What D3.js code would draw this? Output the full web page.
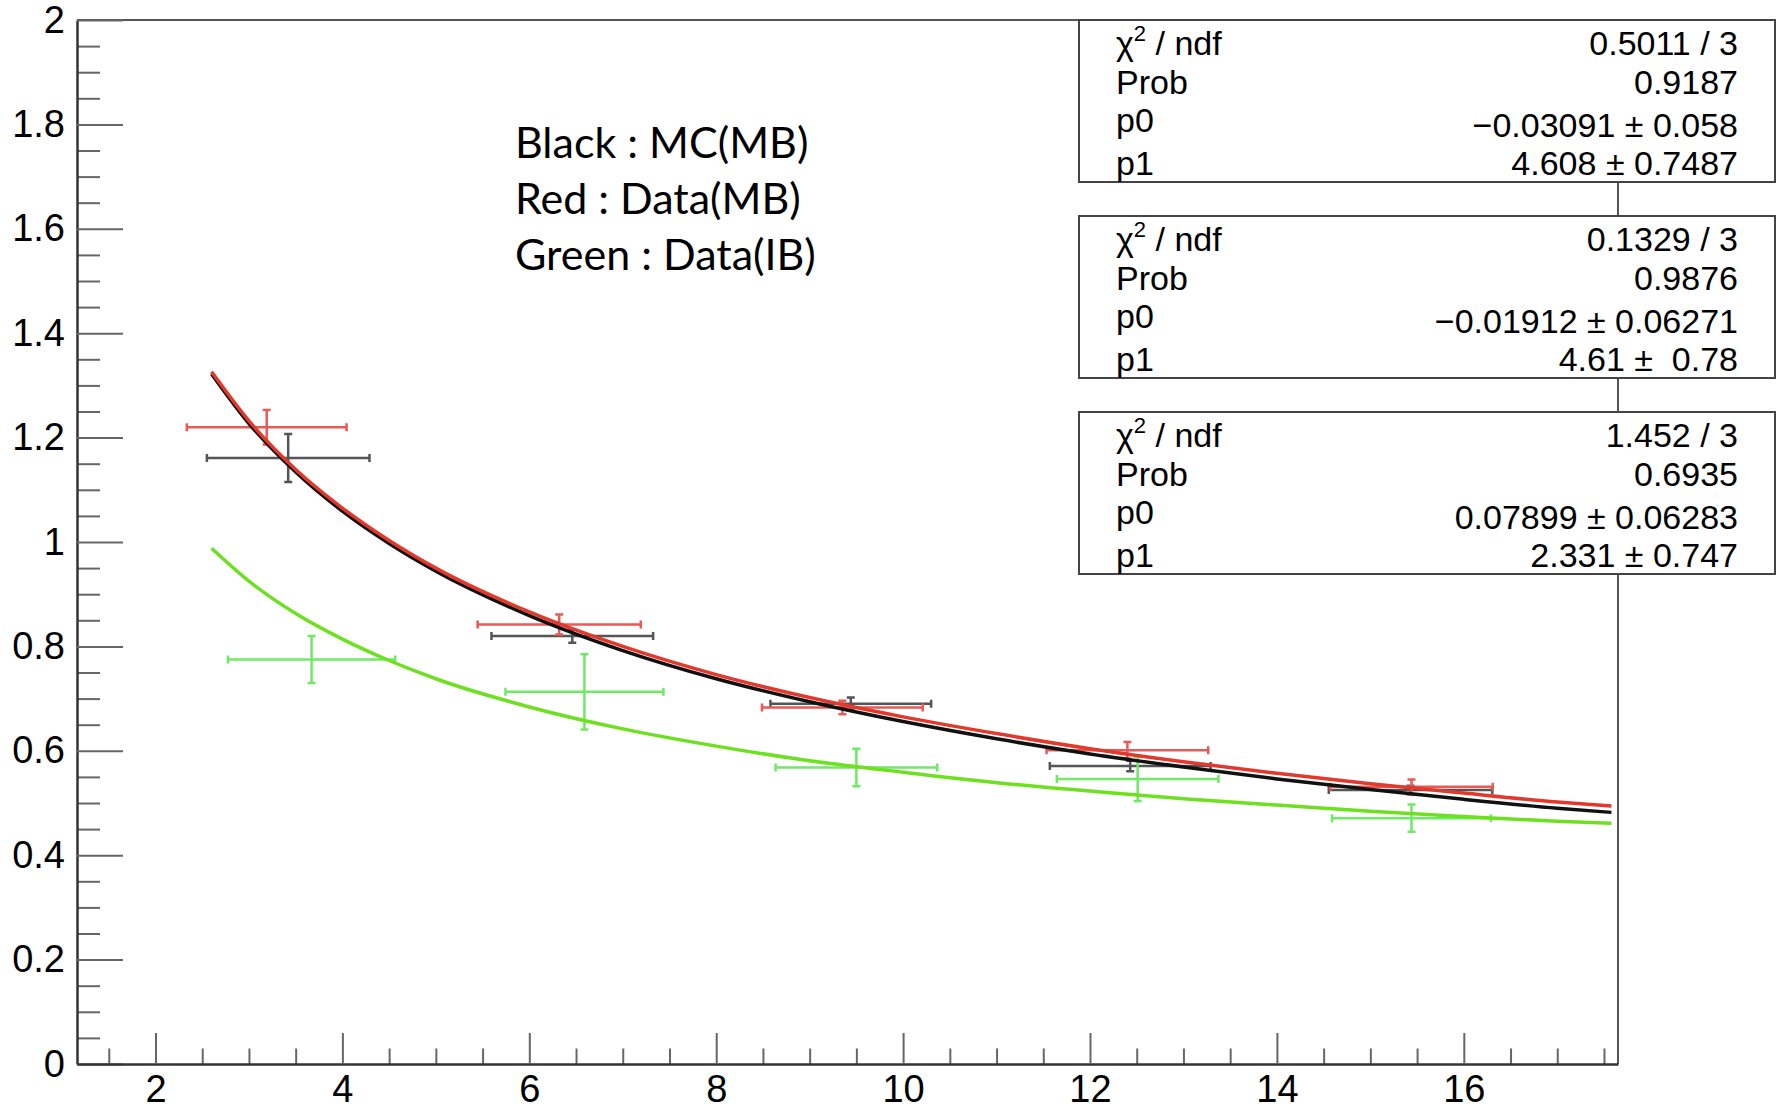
<!DOCTYPE html>
<html>
<head>
<meta charset="utf-8">
<script src="https://cdn.jsdelivr.net/npm/d3@7"></script>
<style>
  body { margin: 0; background: #fff; }
  svg { display: block; }
  .tick text { font-family: "Liberation Sans", Arial, sans-serif; font-size: 38px; fill: #000; }
</style>
</head>
<body>
<svg id="chart"></svg>
<script>
// ---- data ----
const yTicks = [0, 0.2, 0.4, 0.6, 0.8, 1, 1.2, 1.4, 1.6, 1.8, 2];
const xTicks = [2, 4, 6, 8, 10, 12, 14, 16];

// points with errors (MC MB = black, Data MB = red, Data IB = green)
const blackX    = [3.42, 6.46, 9.44, 12.43, 15.43];
const blackY    = [1.161, 0.820, 0.690, 0.571, 0.525];
const blackXErr = [0.87, 0.865, 0.86, 0.86, 0.875];
const blackYErr = [0.046, 0.013, 0.012, 0.010, 0.008];

const redX    = [3.19, 6.32, 9.35, 12.40, 15.44];
const redY    = [1.220, 0.842, 0.683, 0.601, 0.531];
const redXErr = [0.855, 0.873, 0.86, 0.865, 0.87];
const redYErr = [0.033, 0.019, 0.013, 0.016, 0.014];

const greenX    = [3.67, 6.59, 9.50, 12.51, 15.44];
const greenY    = [0.775, 0.713, 0.568, 0.546, 0.471];
const greenXErr = [0.895, 0.845, 0.865, 0.865, 0.85];
const greenYErr = [0.045, 0.072, 0.036, 0.042, 0.026];

// fitted curves
const curveX     = [2.6, 3, 3.5, 4, 4.5, 5, 6, 7, 8, 9, 10, 11, 12, 13, 14, 15, 16, 17, 17.58];
const blackCurve = [1.322, 1.227, 1.134, 1.059, 0.997, 0.944, 0.859, 0.792, 0.738, 0.694, 0.656, 0.623, 0.594, 0.569, 0.546, 0.526, 0.507, 0.490, 0.482];
const redCurve   = [1.326, 1.232, 1.139, 1.065, 1.003, 0.950, 0.866, 0.800, 0.746, 0.702, 0.665, 0.633, 0.604, 0.579, 0.557, 0.537, 0.519, 0.502, 0.494];
const greenCurve = [0.988, 0.925, 0.863, 0.814, 0.773, 0.738, 0.684, 0.642, 0.609, 0.581, 0.559, 0.539, 0.523, 0.508, 0.496, 0.484, 0.474, 0.465, 0.461];

// stats boxes
const statLabels = ["chi2", "Prob", "p0", "p1"];
const fitChi2 = ["0.5011 / 3", "0.1329 / 3", "1.452 / 3"];
const fitProb = ["0.9187", "0.9876", "0.6935"];
const fitP0   = ["\u22120.03091 \u00b1 0.058", "\u22120.01912 \u00b1 0.06271", "0.07899 \u00b1 0.06283"];
const fitP1   = ["4.608 \u00b1 0.7487", "4.61 \u00b1  0.78", "2.331 \u00b1 0.747"];

const legendLines = ["Black : MC(MB)", "Red : Data(MB)", "Green : Data(IB)"];

// ---- layout ----
const W = 1777, H = 1109;
const margin = { top: 20, right: 159, bottom: 45, left: 77 };
const width = W - margin.left - margin.right;
const height = H - margin.top - margin.bottom;

const svg = d3.select('#chart').attr('width', W).attr('height', H);
const chart = svg.append('g').attr('transform', `translate(${margin.left},${margin.top})`);

const xScale = d3.scaleLinear().domain([1.16, 17.65]).range([0, width]);
const yScale = d3.scaleLinear().domain([0, 2]).range([height, 0]);

// frame top / right
chart.append('path')
    .attr('d', `M0,0H${width}V${height}`)
    .attr('fill', 'none')
    .attr('stroke', '#555')
    .attr('stroke-width', 2);

// minor ticks
const yMinor = d3.range(0, 2.001, 0.05).filter(v => Math.abs(v * 5 - Math.round(v * 5)) > 1e-6);
const xMinor = d3.range(1.5, 17.6, 0.5).filter(v => v % 2 !== 0);

chart.append('g')
    .call(d3.axisLeft(yScale).tickValues(yMinor).tickSize(-23).tickFormat(''))
    .call(g => g.select('.domain').remove())
    .selectAll('line').attr('stroke', '#666').attr('stroke-width', 2);

chart.append('g')
    .attr('transform', `translate(0,${height})`)
    .call(d3.axisBottom(xScale).tickValues(xMinor).tickSize(-15.5).tickFormat(''))
    .call(g => g.select('.domain').remove())
    .selectAll('line').attr('stroke', '#666').attr('stroke-width', 2);

// major axes
const yAxisG = chart.append('g')
    .call(d3.axisLeft(yScale).tickValues(yTicks).tickSizeInner(-46).tickSizeOuter(0)
        .tickPadding(12).tickFormat(d => String(+d.toFixed(1))));
yAxisG.selectAll('line').attr('stroke', '#666').attr('stroke-width', 2);
yAxisG.select('.domain').attr('stroke', '#333').attr('stroke-width', 2.5);

const xAxisG = chart.append('g')
    .attr('transform', `translate(0,${height})`)
    .call(d3.axisBottom(xScale).tickValues(xTicks).tickSizeInner(-31).tickSizeOuter(0)
        .tickPadding(11).tickFormat(d => d));
xAxisG.selectAll('line').attr('stroke', '#666').attr('stroke-width', 2);
xAxisG.select('.domain').attr('stroke', '#333').attr('stroke-width', 2.5);
svg.selectAll('.tick text').attr('fill', '#000');

// ---- error bars ----
function drawErrors(xs, ys, xe, ye, color) {
    const pts = xs.map((x, i) => ({ x, y: ys[i], xe: xe[i], ye: ye[i] }));
    const g = chart.append('g')
        .attr('stroke', color)
        .attr('stroke-width', 2.5)
        .attr('fill', 'none');
    const cap = 4;
    pts.forEach(d => {
        const cx = xScale(d.x), cy = yScale(d.y);
        const x0 = xScale(d.x - d.xe), x1 = xScale(d.x + d.xe);
        const y0 = yScale(d.y - d.ye), y1 = yScale(d.y + d.ye);
        g.append('path').attr('d',
            `M${x0},${cy}H${x1}` +
            `M${x0},${cy - cap}V${cy + cap}M${x1},${cy - cap}V${cy + cap}` +
            `M${cx},${y0}V${y1}` +
            `M${cx - cap},${y0}H${cx + cap}M${cx - cap},${y1}H${cx + cap}`);
    });
}
drawErrors(blackX, blackY, blackXErr, blackYErr, '#555');
drawErrors(redX, redY, redXErr, redYErr, '#e85a55');
drawErrors(greenX, greenY, greenXErr, greenYErr, '#6fea66');

// ---- fit curves ----
const line = d3.line()
    .x(d => xScale(d[0]))
    .y(d => yScale(d[1]))
    .curve(d3.curveMonotoneX);

[[greenCurve, '#6de020'], [blackCurve, '#111'], [redCurve, '#e3382c']].forEach(([vals, color]) => {
    chart.append('path')
        .datum(curveX.map((x, i) => [x, vals[i]]))
        .attr('fill', 'none')
        .attr('stroke', color)
        .attr('stroke-width', 3.5)
        .attr('d', line);
});

// ---- legend text ----
const legend = svg.append('g')
    .attr('font-family', 'Lato, "Open Sans", sans-serif')
    .attr('font-size', 43)
    .attr('fill', '#000');
legendLines.forEach((t, i) => {
    legend.append('text')
        .attr('x', 515)
        .attr('y', 158 + i * 56)
        .text(t);
});

// ---- stats boxes ----
const boxLeft = 1079, boxRight = 1775, boxH = 162, boxStep = 196;
const rowY = [34.5, 74, 117, 154.5];

fitChi2.forEach((chi, k) => {
    const top = 20 + k * boxStep;
    const g = svg.append('g').attr('transform', `translate(${boxLeft},${top})`)
        .attr('font-family', '"Liberation Sans", Arial, sans-serif')
        .attr('font-size', 34)
        .attr('fill', '#000');
    g.append('rect')
        .attr('width', boxRight - boxLeft)
        .attr('height', boxH)
        .attr('fill', '#fff')
        .attr('stroke', '#444')
        .attr('stroke-width', 2);

    const values = [chi, fitProb[k], fitP0[k], fitP1[k]];
    statLabels.forEach((lab, r) => {
        const t = g.append('text')
            .attr('x', 1116 - boxLeft)
            .attr('y', rowY[r] - (lab === 'p0' ? 5 : 0));
        if (lab === 'chi2') {
            t.append('tspan').text('\u03c7');
            t.append('tspan').attr('font-size', 22).attr('dy', -14).text('2');
            t.append('tspan').attr('dy', 14).text(' / ndf');
        } else {
            t.text(lab);
        }
        g.append('text')
            .attr('x', 1738 - boxLeft)
            .attr('y', rowY[r])
            .attr('text-anchor', 'end')
            .style('white-space', 'pre')
            .text(values[r]);
    });
});
</script>
</body>
</html>
